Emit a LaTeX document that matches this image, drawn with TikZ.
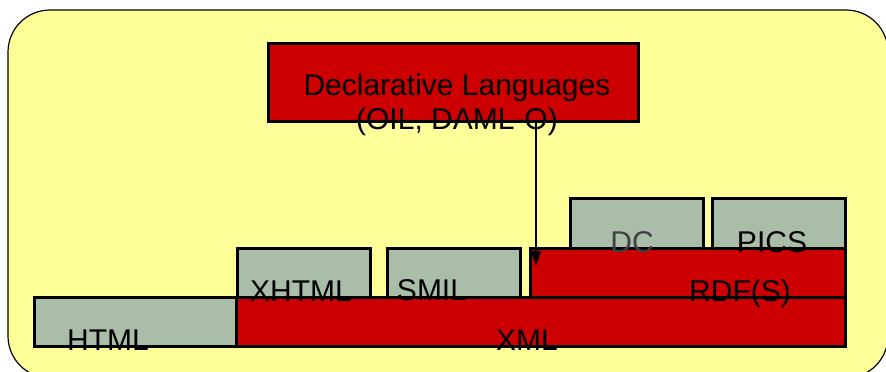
\documentclass[tikz,border=0pt]{standalone}
\usepackage{fontspec}
\setmainfont{Liberation Sans}
\usetikzlibrary{arrows.meta}
\definecolor{bgyellow}{HTML}{FFFF99}
\definecolor{boxgray}{HTML}{A9BDA8}
\definecolor{boxred}{HTML}{CC0000}
\definecolor{dctext}{HTML}{404040}
\begin{document}
\begin{tikzpicture}[x=1pt,y=-1pt,
  blk/.style={draw=black, line width=3pt, inner sep=0pt, outer sep=0pt, anchor=north west},
  redbox/.style={blk, fill=boxred},
  graybox/.style={blk, fill=boxgray},
  lbl/.style={font=\fontsize{30}{30}\selectfont, anchor=base, inner sep=0pt}
]
\useasboundingbox (0,0) rectangle (886,372);
\clip (0,0) rectangle (886,372);
\draw[fill=bgyellow, line width=1.2pt, rounded corners=42pt] (8,10) rectangle (888,378);

\node[redbox, minimum width=370pt, minimum height=78pt] (dl) at (268,43) {};
\node[graybox, minimum width=133pt, minimum height=50pt] (dc) at (570,198) {};
\node[graybox, minimum width=133pt, minimum height=50pt] (pics) at (712,198) {};
\node[graybox, minimum width=133pt, minimum height=49pt] (xhtml) at (237,248) {};
\node[graybox, minimum width=133pt, minimum height=49pt] (smil) at (387,248) {};
\node[redbox, minimum width=315pt, minimum height=49pt] (rdf) at (530,248) {};
\node[graybox, minimum width=202pt, minimum height=49pt] (html) at (34,297) {};
\node[redbox, minimum width=609pt, minimum height=49pt] (xml) at (236,297) {};

\node[lbl] (dlt1) at (457,95) {Declarative Languages};
\node[lbl] (dlt2) at (457,129) {(OIL, DAML-O)};
\node[lbl] (htmlt) at (108,350) {HTML};
\node[lbl] (xmlt) at (527,350) {XML};
\node[lbl] (xhtmlt) at (301,301) {XHTML};
\node[lbl] (smilt) at (432,300) {SMIL};
\node[lbl] (rdft) at (740,301) {RDF(S)};
\node[lbl, text=dctext] (dct) at (632,252) {DC};
\node[lbl] (picst) at (772,252) {PICS};

\coordinate (tip) at (536,266);
\draw[line width=2pt, -{Triangle[length=15pt,width=10pt]}] (dl.south -| tip) -- (tip);
\end{tikzpicture}
\end{document}
